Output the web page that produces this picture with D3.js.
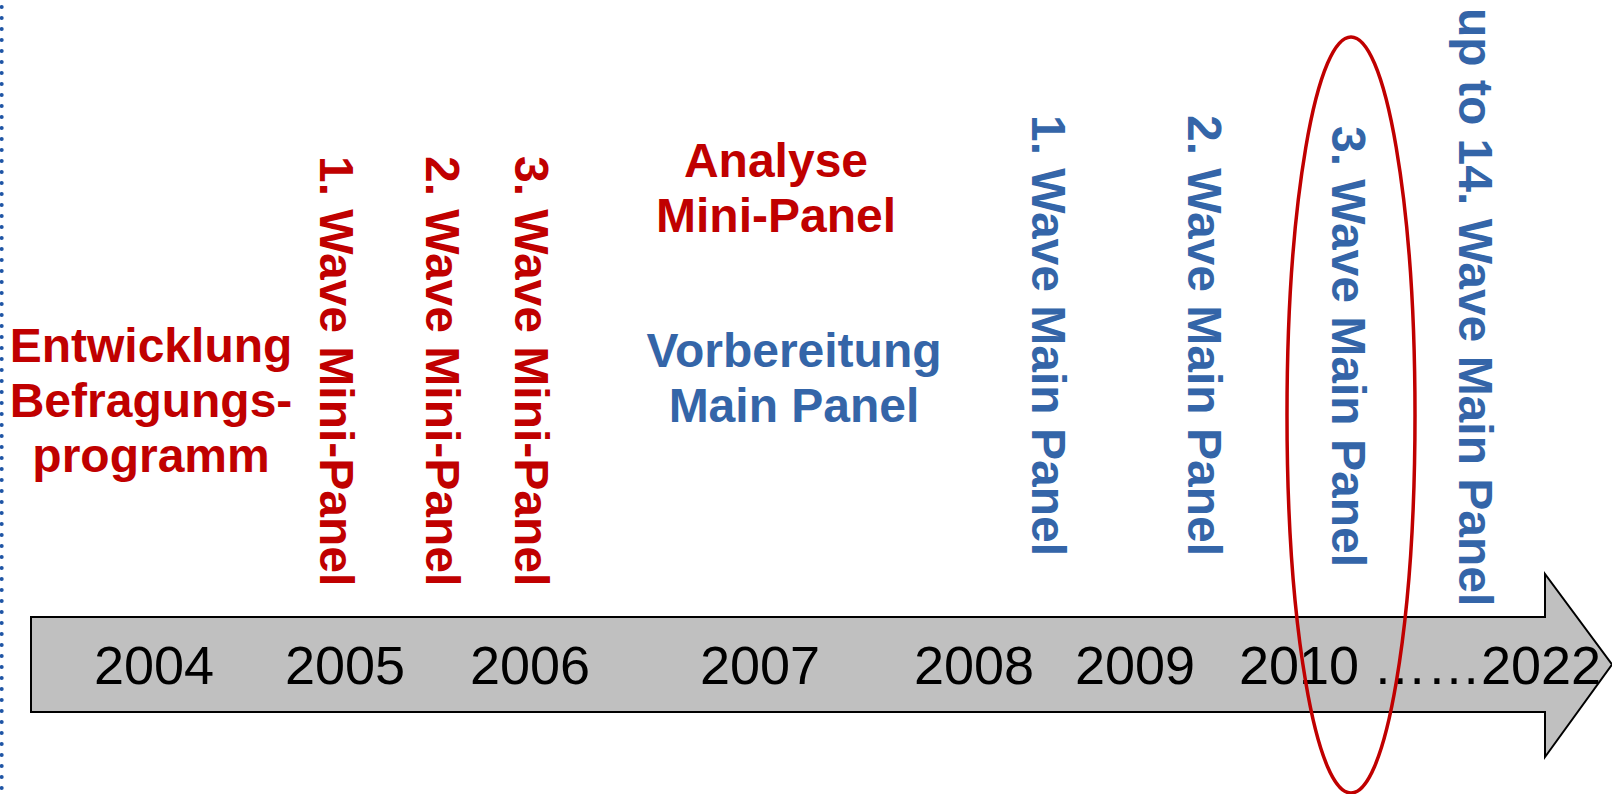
<!DOCTYPE html>
<html>
<head>
<meta charset="utf-8">
<script src="https://cdn.jsdelivr.net/npm/d3@7"></script>
<style>
  body { margin: 0; background: #fff; }
  svg { display: block; font-family: "Liberation Sans", Arial, sans-serif; }
</style>
</head>
<body>
<svg id="chart"></svg>
<script>
// timeline data
var years = [2004, 2005, 2006, 2007, 2008, 2009, 2010, 2022];
var yearLabels = ['2004', '2005', '2006', '2007', '2008', '2009', '2010', '\u2026\u20262022'];

// phase texts (horizontal)
var phaseLines = [
    ['Entwicklung', 'Befragungs-', 'programm'],
    ['Analyse', 'Mini-Panel'],
    ['Vorbereitung', 'Main Panel']
];
var phaseColors = ['#c00000', '#c00000', '#3465a8'];

// survey waves (vertical)
var waveLabels = [
    '1. Wave Mini-Panel', '2. Wave Mini-Panel', '3. Wave Mini-Panel',
    '1. Wave Main Panel', '2. Wave Main Panel', '3. Wave Main Panel',
    'up to 14. Wave Main Panel'
];
var waveKind = ['mini', 'mini', 'mini', 'main', 'main', 'main', 'main'];

// layout (slide positions)
var W = 1612, H = 794;
var yearPx = [154, 345, 530, 760, 974, 1135, 1299, 1487];
var phasePos = [[151, 362], [776, 177], [794, 367]];
var waveX = [320, 426, 515, 1032, 1188, 1332, 1459];
var waveTop = [156, 156, 156, 115, 115, 126, 8];
var body = {x0: 31, y0: 617, y1: 712, head: 1545, hy0: 574, hy1: 757, tip: 1612};

var svg = d3.select('#chart').attr('width', W).attr('height', H);

var x = d3.scaleLinear().domain(years).range(yearPx);
var color = d3.scaleOrdinal().domain(['mini', 'main']).range(['#c00000', '#3465a8']);

// dotted border on the left
svg.append('line')
    .attr('x1', 1.7).attr('x2', 1.7)
    .attr('y1', 7).attr('y2', H)
    .attr('stroke', '#1f55a5')
    .attr('stroke-width', 4)
    .attr('stroke-linecap', 'round')
    .attr('stroke-dasharray', '0 11');

// the arrow
var cy = (body.y0 + body.y1) / 2;
var arrow = d3.path();
arrow.moveTo(body.x0, body.y0);
arrow.lineTo(body.head, body.y0);
arrow.lineTo(body.head, body.hy0);
arrow.lineTo(body.tip, cy);
arrow.lineTo(body.head, body.hy1);
arrow.lineTo(body.head, body.y1);
arrow.lineTo(body.x0, body.y1);
arrow.closePath();

svg.append('path')
    .attr('d', arrow.toString())
    .attr('fill', '#c0c0c0')
    .attr('stroke', '#000')
    .attr('stroke-width', 2);

// year labels
svg.append('g').selectAll('text')
    .data(years)
    .join('text')
    .attr('x', function(d) { return x(d); })
    .attr('y', 684)
    .attr('text-anchor', 'middle')
    .attr('font-size', 54)
    .attr('fill', '#000')
    .text(function(d, i) { return yearLabels[i]; });

// phase blocks
var phases = svg.append('g').selectAll('text')
    .data(phaseLines)
    .join('text')
    .attr('text-anchor', 'middle')
    .attr('font-size', 48)
    .attr('font-weight', 'bold')
    .attr('fill', function(d, i) { return phaseColors[i]; });

phases.each(function(lines, i) {
    var t = d3.select(this);
    lines.forEach(function(line, j) {
        t.append('tspan')
            .attr('x', phasePos[i][0])
            .attr('y', phasePos[i][1] + j * 55)
            .text(line);
    });
});

// vertical wave labels
svg.append('g').selectAll('text')
    .data(waveLabels)
    .join('text')
    .attr('transform', function(d, i) {
        return 'translate(' + waveX[i] + ',' + waveTop[i] + ') rotate(90)';
    })
    .attr('font-size', 48)
    .attr('font-weight', 'bold')
    .attr('fill', function(d, i) { return color(waveKind[i]); })
    .text(function(d) { return d; });

// highlight of the current wave
svg.append('ellipse')
    .attr('cx', 1351)
    .attr('cy', 415)
    .attr('rx', 64)
    .attr('ry', 378)
    .attr('fill', 'none')
    .attr('stroke', '#c00000')
    .attr('stroke-width', 3.5);
</script>
</body>
</html>
